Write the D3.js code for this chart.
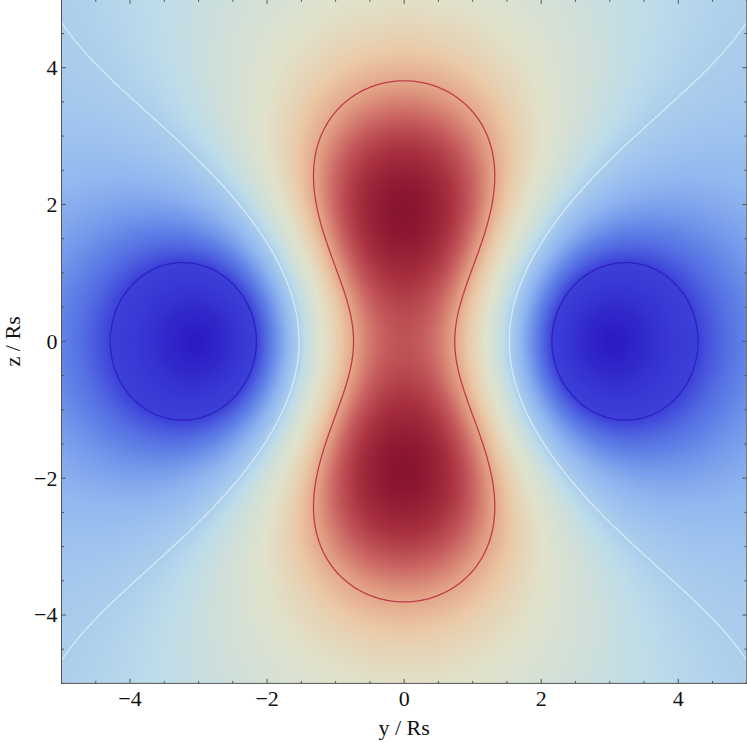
<!DOCTYPE html>
<html><head><meta charset="utf-8">
<script src="https://cdn.jsdelivr.net/npm/d3@7"></script>
<style>body{margin:0;background:#fff} svg{display:block}</style>
</head><body>
<svg id="chart" width="747" height="743"></svg>
<script>
// ---- data (field model: two positive lobes on the z axis, two negative on the y axis)
const lobeY      = [0, 0, -3.039, 3.039];
const lobeZ      = [1.866, -1.866, 0, 0];
const lobeAmp    = [1, 1, -2.636, -2.636];
const lobeWidthY = [2.053, 2.053, 0.250, 0.250];
const lobeWidthZ = [1.945, 1.945, 0.272, 0.272];
const lobePower  = [0.331, 0.331, 0.279, 0.279];
const contourLevels = [-0.374, 0, 0.237];
const xTickLabels = [-4, -2, 0, 2, 4];
const yTickLabels = [-4, -2, 0, 2, 4];
const domainY = [-5, 5], domainZ = [-5, 5];
// value -> colour position
const colorValues = [-1.83, -1.0, -0.374, -0.199, -0.061, 0, 0.07, 0.14, 0.178, 0.237, 0.307, 0.392];
const colorPos    = [0, 0.035, 0.1, 0.21, 0.31, 0.36, 0.45, 0.51, 0.56, 0.67, 0.83, 1];
const rampPos     = [0, .1, .2, .3, .4, .5, .6, .7, .8, .9, 1];
const rampColors  = ["#2a1bc2","#3c3fd8","#5c7ee6","#92b9f0","#bddcea","#e0e2cc","#ebc8a5","#e09a80","#c86060","#a83040","#88132e"];

function field(y, z) {
  let f = 0;
  for (let k = 0; k < lobeY.length; k++) {
    const q = ((y - lobeY[k]) / lobeWidthY[k]) ** 2 + ((z - lobeZ[k]) / lobeWidthZ[k]) ** 2;
    f += lobeAmp[k] * Math.pow(1 + q, -lobePower[k]);
  }
  return f;
}

const X0 = 61.5, X1 = 746.8, Y0 = 683.4, Y1 = -0.7;
const x = d3.scaleLinear().domain(domainY).range([X0, X1]);
const yS = d3.scaleLinear().domain(domainZ).range([Y0, Y1]);
const svg = d3.select("#chart");
const font = "'Liberation Serif','Times New Roman',serif";

const cmap = d3.scaleLinear().domain(rampPos).range(rampColors).interpolate(d3.interpolateRgb);
const v2t = d3.scaleLinear().domain(colorValues).range(colorPos).clamp(true);

// raster density
const pw = Math.round(X1 - X0), ph = Math.round(Y0 - Y1);
const cv = document.createElement("canvas"); cv.width = pw; cv.height = ph;
const ctx = cv.getContext("2d"); const img = ctx.createImageData(pw, ph);
for (let j = 0; j < ph; j++) for (let i = 0; i < pw; i++) {
  const c = d3.rgb(cmap(v2t(field(x.invert(X0 + i + 0.5), yS.invert(Y1 + j + 0.5)))));
  const k = 4 * (j * pw + i);
  img.data[k] = c.r; img.data[k + 1] = c.g; img.data[k + 2] = c.b; img.data[k + 3] = 255;
}
ctx.putImageData(img, 0, 0);
svg.append("image").attr("x", X0).attr("y", Y1).attr("width", pw).attr("height", ph)
  .attr("preserveAspectRatio", "none").attr("href", cv.toDataURL());

// contour lines
const n = 441, lo = -5.5, hi = 5.5, st = (hi - lo) / (n - 1);
const grid = new Float64Array(n * n);
for (let j = 0; j < n; j++) for (let i = 0; i < n; i++) grid[j * n + i] = field(lo + i * st, hi - j * st);
const cs = d3.contours().size([n, n]).thresholds(contourLevels)(grid);
const path = d3.geoPath(d3.geoTransform({ point(a, b) { this.stream.point(x(lo + (a - 0.5) * st), yS(hi - (b - 0.5) * st)); } }));
svg.append("clipPath").attr("id", "clip").append("rect")
  .attr("x", X0).attr("y", Y1).attr("width", X1 - X0).attr("height", Y0 - Y1);
const lineColors = ["#2c22c0", "#d4eaf2", "#c23a4a"];
svg.append("g").attr("clip-path", "url(#clip)").selectAll("path").data(cs).join("path")
  .attr("d", path).attr("fill", "none").attr("stroke", (d, i) => lineColors[i]).attr("stroke-width", 1.3);

// frame and ticks
const axisColor = "#555";
svg.append("rect").attr("x", X0).attr("y", Y1).attr("width", X1 - X0).attr("height", Y0 - Y1)
  .attr("fill", "none").attr("stroke", axisColor).attr("stroke-width", 1);
const tk = svg.append("g").attr("stroke", axisColor).attr("stroke-width", 1);
const halfSteps = d3.range(-5, 5.01, 0.5);
function ticksX(vals, len) {
  vals.forEach(v => {
    tk.append("line").attr("x1", x(v)).attr("x2", x(v)).attr("y1", Y0).attr("y2", Y0 - len);
    tk.append("line").attr("x1", x(v)).attr("x2", x(v)).attr("y1", Y1).attr("y2", Y1 + len);
  });
}
function ticksY(vals, len) {
  vals.forEach(v => {
    tk.append("line").attr("y1", yS(v)).attr("y2", yS(v)).attr("x1", X0).attr("x2", X0 + len);
    tk.append("line").attr("y1", yS(v)).attr("y2", yS(v)).attr("x1", X1).attr("x2", X1 - len);
  });
}
ticksX(xTickLabels, 4.5); ticksX(halfSteps.filter(v => !xTickLabels.includes(v)), 2.5);
ticksY(yTickLabels, 4.5); ticksY(halfSteps.filter(v => !yTickLabels.includes(v)), 2.5);

const fmt = d3.format("d");
svg.append("g").selectAll("text").data(xTickLabels).join("text")
  .attr("x", d => x(d)).attr("y", 706).attr("text-anchor", "middle")
  .attr("font-family", font).attr("font-size", 22).attr("fill", "#111").text(d => fmt(d));
svg.append("g").selectAll("text").data(yTickLabels).join("text")
  .attr("x", 57.5).attr("y", d => yS(d) + 7.5).attr("text-anchor", "end")
  .attr("font-family", font).attr("font-size", 22).attr("fill", "#111").text(d => fmt(d));
svg.append("text").attr("x", x(0)).attr("y", 735).attr("text-anchor", "middle")
  .attr("font-family", font).attr("font-size", 22).attr("fill", "#111").text("y / Rs");
svg.append("text").attr("transform", `translate(20,${yS(0)}) rotate(-90)`).attr("text-anchor", "middle")
  .attr("font-family", font).attr("font-size", 22).attr("fill", "#111").text("z / Rs");
</script>
</body></html>
